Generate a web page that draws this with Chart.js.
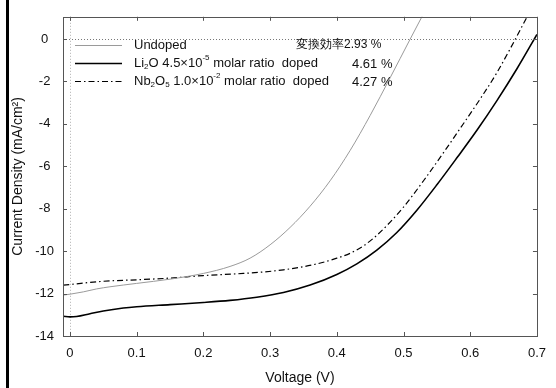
<!DOCTYPE html>
<html>
<head>
<meta charset="utf-8">
<script src="https://cdn.jsdelivr.net/npm/chart.js@4/dist/chart.umd.min.js"></script>
<style>
    html, body { margin: 0; padding: 0; background: #fff; }
    #wrap { position: relative; width: 556px; height: 388px; }
</style>
</head>
<body>
<div id="wrap"><canvas id="ivChart" width="556" height="388"></canvas></div>
<script>
// voltage (V) / current density (mA/cm2)
const undopedV = [-0.01, 0, 0.02, 0.04, 0.06, 0.1, 0.15, 0.2, 0.24, 0.27, 0.3, 0.33, 0.36, 0.39, 0.42, 0.45, 0.48, 0.51, 0.53];
const undopedJ = [-12.07, -12.03, -11.92, -11.78, -11.68, -11.52, -11.32, -11.05, -10.72, -10.33, -9.7, -8.88, -7.88, -6.68, -5.25, -3.6, -1.82, 0.0, 1.2];

const li2oV = [-0.01, 0, 0.01, 0.03, 0.05, 0.08, 0.1, 0.15, 0.2, 0.24, 0.28, 0.32, 0.36, 0.4, 0.43, 0.46, 0.49, 0.52, 0.55, 0.58, 0.61, 0.64, 0.67, 0.7];
const li2oJ = [-13.07, -13.1, -13.08, -12.95, -12.82, -12.68, -12.62, -12.52, -12.42, -12.32, -12.17, -11.95, -11.6, -11.1, -10.6, -9.95, -9.12, -8.07, -6.87, -5.6, -4.3, -2.9, -1.4, 0.22];

const nbV = [-0.01, 0, 0.05, 0.1, 0.15, 0.2, 0.26, 0.32, 0.37, 0.4, 0.42, 0.44, 0.46, 0.48, 0.5, 0.53, 0.56, 0.59, 0.62, 0.64, 0.66, 0.686];
const nbJ = [-11.6, -11.57, -11.42, -11.35, -11.27, -11.15, -11.05, -10.88, -10.6, -10.33, -10.1, -9.75, -9.25, -8.63, -7.92, -6.68, -5.35, -3.98, -2.58, -1.58, -0.45, 1.1];

const xTicks = [0, 0.1, 0.2, 0.3, 0.4, 0.5, 0.6, 0.7];
const yTicks = [0, -2, -4, -6, -8, -10, -12, -14];

const efficiencies = ['2.93 %', '4.61 %', '4.27 %'];

const FONT = '"Liberation Sans", Arial, sans-serif';
const GRAY = '#9a9a9a';
const DASHDOT = [6, 3, 1.5, 3];

function pts(xs, ys) {
    return xs.map((x, i) => ({ x: x, y: ys[i] }));
}

// text with sub/superscripts, parts like ['Li', '_2', 'O']
function drawRich(ctx, parts, x, y) {
    let cx = x;
    parts.forEach(p => {
        if (p[0] === '_' || p[0] === '^') {
            ctx.font = '8px ' + FONT;
            const dy = p[0] === '_' ? 4 : -5;
            ctx.fillText(p.slice(1), cx, y + dy);
            cx += ctx.measureText(p.slice(1)).width;
        } else {
            ctx.font = '13px ' + FONT;
            ctx.fillText(p, cx, y);
            cx += ctx.measureText(p).width;
        }
    });
}

const decorPlugin = {
    id: 'decor',
    beforeDatasetsDraw(chart) {
        const { ctx, chartArea: a, scales } = chart;
        ctx.save();
        // zero lines
        ctx.lineWidth = 1;
        ctx.setLineDash([1, 2]);
        ctx.strokeStyle = '#b0b0b0';
        const x0 = Math.round(scales.x.getPixelForValue(0)) + 0.5;
        ctx.beginPath(); ctx.moveTo(x0, a.top); ctx.lineTo(x0, a.bottom); ctx.stroke();
        ctx.strokeStyle = '#777';
        const y0 = Math.round(scales.y.getPixelForValue(0)) + 0.5;
        ctx.beginPath(); ctx.moveTo(a.left, y0); ctx.lineTo(a.right, y0); ctx.stroke();
        ctx.restore();
    },
    afterDraw(chart) {
        const { ctx, chartArea: a, scales } = chart;
        ctx.save();
        // black bar at left edge
        ctx.fillStyle = '#000';
        ctx.fillRect(6, 0, 3, chart.height);

        // frame + inward ticks
        ctx.strokeStyle = '#555';
        ctx.lineWidth = 1;
        ctx.strokeRect(Math.round(a.left) + 0.5, Math.round(a.top) + 0.5,
            Math.round(a.right - a.left), Math.round(a.bottom - a.top));
        ctx.beginPath();
        xTicks.forEach(v => {
            const px = Math.round(scales.x.getPixelForValue(v)) + 0.5;
            ctx.moveTo(px, a.bottom); ctx.lineTo(px, a.bottom - 4);
            ctx.moveTo(px, a.top); ctx.lineTo(px, a.top + 4);
        });
        yTicks.forEach(v => {
            const py = Math.round(scales.y.getPixelForValue(v)) + 0.5;
            ctx.moveTo(a.left, py); ctx.lineTo(a.left + 4, py);
            ctx.moveTo(a.right, py); ctx.lineTo(a.right - 4, py);
        });
        ctx.stroke();

        // legend
        const rows = [45, 63, 81];
        const styles = [
            { color: GRAY, width: 1, dash: [] },
            { color: '#000', width: 1.6, dash: [] },
            { color: '#000', width: 1.2, dash: DASHDOT }
        ];
        styles.forEach((s, i) => {
            ctx.strokeStyle = s.color;
            ctx.lineWidth = s.width;
            ctx.setLineDash(s.dash);
            ctx.beginPath();
            ctx.moveTo(75, rows[i] + 0.5);
            ctx.lineTo(122, rows[i] + 0.5);
            ctx.stroke();
        });
        ctx.setLineDash([]);
        ctx.fillStyle = '#111';
        ctx.textBaseline = 'middle';
        ctx.textAlign = 'left';
        drawRich(ctx, ['Undoped'], 134, rows[0]);
        drawRich(ctx, ['Li', '_2', 'O 4.5×10', '^-5', ' molar ratio  doped'], 134, rows[1]);
        drawRich(ctx, ['Nb', '_2', 'O', '_5', ' 1.0×10', '^-2', ' molar ratio  doped'], 134, rows[2]);
        ctx.font = '12px ' + FONT;
        ctx.fillText('変換効率' + efficiencies[0], 296, rows[0]);
        ctx.font = '13px ' + FONT;
        ctx.fillText(efficiencies[1], 352, rows[1] + 1);
        ctx.fillText(efficiencies[2], 352, rows[2] + 1);
        ctx.restore();
    }
};

new Chart(document.getElementById('ivChart').getContext('2d'), {
    type: 'line',
    data: {
        datasets: [
            {
                label: 'Undoped',
                data: pts(undopedV, undopedJ),
                borderColor: GRAY,
                borderWidth: 1,
                pointRadius: 0,
                cubicInterpolationMode: 'monotone'
            },
            {
                label: 'Li2O',
                data: pts(li2oV, li2oJ),
                borderColor: '#000',
                borderWidth: 1.6,
                pointRadius: 0,
                cubicInterpolationMode: 'monotone'
            },
            {
                label: 'Nb2O5',
                data: pts(nbV, nbJ),
                borderColor: '#000',
                borderWidth: 1.2,
                borderDash: DASHDOT,
                pointRadius: 0,
                cubicInterpolationMode: 'monotone'
            }
        ]
    },
    options: {
        responsive: false,
        animation: false,
        layout: { padding: { left: 0, top: 8, right: 13, bottom: 0 } },
        plugins: {
            legend: { display: false },
            tooltip: { enabled: false }
        },
        scales: {
            x: {
                type: 'linear',
                min: -0.0104,
                max: 0.7,
                afterBuildTicks: s => { s.ticks = xTicks.map(v => ({ value: v })); },
                afterFit: s => { s.height = 52; },
                grid: { display: false, drawTicks: false },
                border: { display: false },
                ticks: {
                    padding: 10,
                    color: '#111',
                    font: { family: FONT, size: 13 },
                    callback: v => (v === 0 ? '0' : v.toFixed(1))
                },
                title: {
                    display: true,
                    text: 'Voltage (V)',
                    color: '#111',
                    font: { family: FONT, size: 14 },
                    padding: { top: 1, bottom: 1 }
                }
            },
            y: {
                type: 'linear',
                min: -14,
                max: 1.05,
                afterBuildTicks: s => { s.ticks = yTicks.map(v => ({ value: v })); },
                afterFit: s => { s.width = 63; },
                grid: { display: false, drawTicks: false },
                border: { display: false },
                ticks: {
                    padding: 9,
                    crossAlign: 'center',
                    color: '#111',
                    font: { family: FONT, size: 13 }
                },
                title: {
                    display: true,
                    text: 'Current Density (mA/cm²)',
                    color: '#111',
                    font: { family: FONT, size: 14 },
                    padding: { top: 10, bottom: 0 }
                }
            }
        }
    },
    plugins: [decorPlugin]
});
</script>
</body>
</html>
